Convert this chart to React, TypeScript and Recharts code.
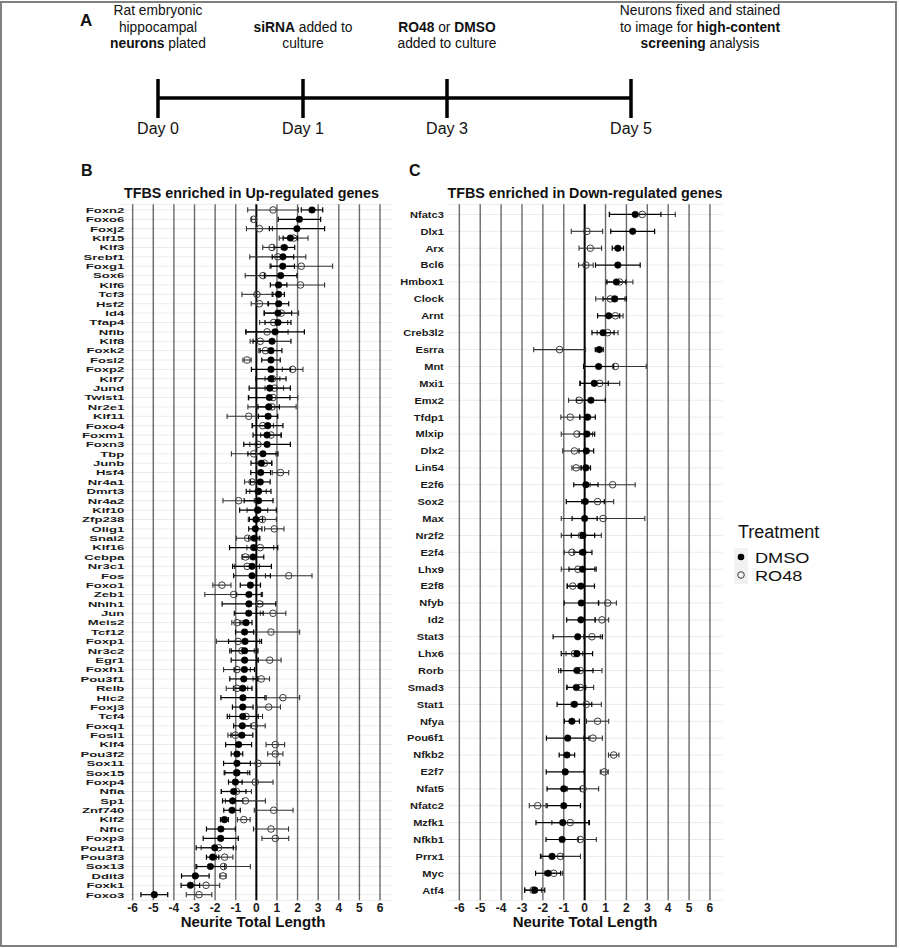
import React from 'react';
import { ScatterChart, Scatter, XAxis, YAxis, ErrorBar, ReferenceLine, CartesianGrid } from 'recharts';

const FONT = '"Liberation Sans", Arial, Helvetica, sans-serif';

// ---------- Panel B: TFBS enriched in up-regulated genes ----------
const upGenes = [
  'Foxn2', 'Foxo6', 'Foxj2', 'Klf15', 'Klf3', 'Srebf1', 'Foxg1', 'Sox6', 'Klf6', 'Tcf3',
  'Hsf2', 'Id4', 'Tfap4', 'Nfib', 'Klf8', 'Foxk2', 'Fosl2', 'Foxp2', 'Klf7', 'Jund',
  'Twist1', 'Nr2e1', 'Klf11', 'Foxo4', 'Foxm1', 'Foxn3', 'Tbp', 'Junb', 'Hsf4', 'Nr4a1',
  'Dmrt3', 'Nr4a2', 'Klf10', 'Zfp238', 'Olig1', 'Snai2', 'Klf16', 'Cebpa', 'Nr3c1', 'Fos',
  'Foxo1', 'Zeb1', 'Nhlh1', 'Jun', 'Meis2', 'Tcf12', 'Foxp1', 'Nr3c2', 'Egr1', 'Foxh1',
  'Pou3f1', 'Relb', 'Hic2', 'Foxj3', 'Tcf4', 'Foxq1', 'Fosl1', 'Klf4', 'Pou3f2', 'Sox11',
  'Sox15', 'Foxp4', 'Nfia', 'Sp1', 'Znf740', 'Klf2', 'Nfic', 'Foxp3', 'Pou2f1', 'Pou3f3',
  'Sox13', 'Ddit3', 'Foxk1', 'Foxo3',
];
const upDmso = [
  2.70, 2.09, 1.97, 1.65, 1.36, 1.29, 1.28, 1.18, 1.08, 1.08,
  1.08, 1.05, 1.05, 0.91, 0.76, 0.71, 0.71, 0.71, 0.71, 0.65,
  0.63, 0.60, 0.57, 0.55, 0.52, 0.52, 0.32, 0.24, 0.21, 0.19,
  0.11, 0.11, 0.08, -0.02, -0.05, -0.10, -0.13, -0.16, -0.21, -0.21,
  -0.29, -0.36, -0.36, -0.37, -0.50, -0.57, -0.55, -0.57, -0.57, -0.58,
  -0.61, -0.66, -0.65, -0.66, -0.66, -0.68, -0.70, -0.86, -0.94, -0.94,
  -0.94, -1.02, -1.10, -1.15, -1.18, -1.55, -1.72, -1.73, -2.02, -2.12,
  -2.23, -2.96, -3.20, -4.95,
];
const upDmsoSe = [
  0.52, 1.03, 1.34, 0.35, 0.50, 0.52, 0.57, 0.79, 0.40, 0.28,
  0.49, 0.66, 0.63, 1.42, 0.92, 0.53, 0.45, 0.95, 0.73, 1.00,
  1.00, 0.52, 0.47, 0.74, 0.68, 1.13, 0.73, 0.50, 0.48, 0.48,
  0.60, 0.70, 0.89, 0.32, 0.32, 0.27, 1.17, 0.52, 0.94, 0.89,
  0.49, 0.60, 1.30, 0.70, 0.29, 0.44, 0.80, 0.65, 0.65, 0.49,
  0.68, 0.45, 1.07, 0.50, 0.75, 0.42, 0.53, 0.63, 0.28, 0.65,
  0.62, 0.33, 0.60, 0.49, 0.40, 0.19, 0.70, 0.85, 0.90, 0.30,
  0.70, 0.67, 0.45, 0.65,
];
const upRo48 = [
  0.81, -0.13, 0.15, 1.81, 0.76, 1.04, 2.18, 0.32, 2.14, 0.03,
  0.15, 1.21, 0.84, 0.52, 0.19, 0.44, -0.45, 1.76, 0.78, 0.87,
  0.81, 0.76, -0.37, 0.31, 0.71, 0.08, -0.13, 0.39, 1.17, -0.21,
  0.08, -0.86, 0.05, 0.29, 0.87, -0.42, 0.19, -0.53, -0.45, 1.57,
  -1.67, -1.10, 0.16, 0.81, -0.94, 0.71, -0.89, -0.70, 0.65, -0.94,
  0.24, -0.94, 1.29, 0.60, -0.50, -0.10, -1.02, 0.92, 0.92, 0.08,
  -0.97, -0.05, -0.97, -0.53, 0.84, -0.61, 0.71, 0.92, -1.83, -1.54,
  -1.59, -1.62, -2.44, -2.78,
];
const upRo48Se = [
  1.23, 0.10, 0.63, 0.70, 0.45, 1.36, 1.52, 0.86, 1.17, 0.73,
  0.40, 0.84, 0.68, 1.02, 0.49, 0.32, 0.20, 0.50, 0.36, 0.45,
  1.20, 1.17, 1.05, 0.52, 0.50, 0.40, 1.08, 0.37, 0.40, 0.36,
  0.40, 0.76, 0.50, 0.68, 0.47, 0.55, 0.65, 0.16, 0.60, 1.13,
  0.44, 1.40, 0.15, 0.62, 0.25, 1.39, 1.05, 0.60, 0.55, 0.65,
  0.40, 0.52, 0.81, 0.57, 0.80, 0.53, 0.36, 0.45, 0.37, 1.05,
  0.55, 0.86, 0.73, 0.97, 0.94, 0.31, 0.85, 0.65, 0.85, 0.40,
  1.30, 0.15, 0.66, 0.62,
];

// ---------- Panel C: TFBS enriched in down-regulated genes ----------
const downGenes = [
  'Nfatc3', 'Dlx1', 'Arx', 'Bcl6', 'Hmbox1', 'Clock', 'Arnt', 'Creb3l2', 'Esrra', 'Mnt',
  'Mxi1', 'Emx2', 'Tfdp1', 'Mlxip', 'Dlx2', 'Lin54', 'E2f6', 'Sox2', 'Max', 'Nr2f2',
  'E2f4', 'Lhx9', 'E2f8', 'Nfyb', 'Id2', 'Stat3', 'Lhx6', 'Rorb', 'Smad3', 'Stat1',
  'Nfya', 'Pou6f1', 'Nfkb2', 'E2f7', 'Nfat5', 'Nfatc2', 'Mzfk1', 'Nfkb1', 'Prrx1', 'Myc',
  'Atf4',
];
const downDmso = [
  2.42, 2.30, 1.59, 1.59, 1.52, 1.44, 1.15, 0.88, 0.70, 0.67,
  0.46, 0.30, 0.14, 0.11, 0.08, 0.06, 0.06, 0.03, 0.00, -0.08,
  -0.08, -0.10, -0.18, -0.16, -0.18, -0.33, -0.37, -0.37, -0.40, -0.49,
  -0.61, -0.81, -0.85, -0.93, -1.00, -1.00, -1.05, -1.08, -1.56, -1.75,
  -2.39,
];
const downDmsoSe = [
  1.23, 1.05, 0.27, 1.07, 0.45, 0.56, 0.53, 0.53, 0.19, 0.72,
  0.67, 0.69, 0.37, 0.37, 0.35, 0.22, 0.58, 0.91, 0.60, 0.56,
  0.43, 0.65, 0.65, 0.82, 0.68, 1.18, 0.75, 0.77, 0.45, 0.83,
  0.36, 1.02, 0.37, 0.91, 0.80, 0.80, 1.28, 0.77, 0.53, 0.60,
  0.48,
];
const downRo48 = [
  2.76, 0.11, 0.27, 0.06, 1.67, 1.23, 1.47, 1.10, -1.20, 1.47,
  0.72, -0.26, -0.69, -0.37, -0.49, -0.41, 1.34, 0.62, 0.88, -0.16,
  -0.61, -0.32, -0.57, 1.10, 0.83, 0.35, -0.49, -0.21, -0.21, 0.08,
  0.62, 0.40, 1.39, 0.94, -0.08, -2.25, -0.69, -0.21, -1.16, -1.48,
  -2.47,
];
const downRo48Se = [
  1.58, 0.75, 0.54, 0.35, 0.64, 0.70, 0.37, 0.50, 1.24, 1.48,
  0.96, 0.51, 0.45, 0.75, 0.56, 0.20, 1.08, 0.77, 2.00, 0.96,
  0.37, 0.80, 0.27, 0.42, 0.32, 0.40, 0.40, 1.04, 0.64, 0.72,
  0.53, 0.45, 0.25, 0.19, 0.75, 0.40, 0.88, 0.77, 0.96, 0.43,
  0.40,
];

const xTicks = [-6, -5, -4, -3, -2, -1, 0, 1, 2, 3, 4, 5, 6];

// ---------- Panel A timeline ----------
const dayLabels = ['Day 0', 'Day 1', 'Day 3', 'Day 5'];

const PLOT_TOP = 204.3;
const PLOT_BOTTOM = 900.3;
const PAGE_H = 948;

function buildSeries(vals: number[], errs: number[]) {
  return vals.map((v, i) => ({ x: v, y: i + 1, err: errs[i] }));
}

const filledShape = (p: any) => <circle cx={p.cx} cy={p.cy} r={3.3} fill="#000" stroke="#000" strokeWidth={0.5} />;
const openShape = (p: any) => <circle cx={p.cx} cy={p.cy} r={3.3} fill="none" stroke="#3a3a3a" strokeWidth={1} />;

function XTick(props: any) {
  const { x, y, payload } = props;
  return (
    <text x={x} y={y} dy={9.5} textAnchor="middle" fontSize={12} fontWeight="bold" fill="#1a1a1a" fontFamily={FONT}>
      {payload.value}
    </text>
  );
}

function makeYTick(names: string[], sx: number, fs: number) {
  return (props: any) => {
    const { x, y, payload } = props;
    const name = names[Math.round(payload.value) - 1];
    return (
      <text transform={`translate(${x},${y}) scale(${sx},1)`} x={0} y={0} dy="0.35em" textAnchor="end"
        fontSize={fs} fontWeight="bold" fill="#1a1a1a" fontFamily={FONT}>
        {name}
      </text>
    );
  };
}

type PanelProps = {
  genes: string[]; dmso: number[]; dmsoSe: number[]; ro48: number[]; ro48Se: number[];
  left: number; width: number; plotLeft: number; plotRight: number; sx: number; fs: number; gap: number;
};

function Panel({ genes, dmso, dmsoSe, ro48, ro48Se, left, width, plotLeft, plotRight, sx, fs, gap }: PanelProps) {
  const n = genes.length;
  const yTicks = genes.map((_, i) => i + 1);
  const dData = buildSeries(dmso, dmsoSe);
  const rData = buildSeries(ro48, ro48Se);
  const xAxisH = 30;
  return (
    <div style={{ position: 'absolute', left, top: 0 }}>
      <ScatterChart width={width} height={PAGE_H}
        margin={{ top: PLOT_TOP, right: left + width - plotRight, bottom: PAGE_H - PLOT_BOTTOM - xAxisH, left: 0 }}>
        <CartesianGrid horizontal vertical={false} stroke="#ebebeb" strokeWidth={1} />
        {xTicks.map((t) => (
          <ReferenceLine key={t} x={t} stroke={t === 0 ? '#000' : '#6a6a6a'} strokeWidth={t === 0 ? 2 : 1.4} />
        ))}
        <XAxis type="number" dataKey="x" domain={[-6.6, 6.6]} ticks={xTicks} interval={0} allowDataOverflow
          tickLine={false} axisLine={false} height={xAxisH} tickSize={0} tickMargin={2} tick={<XTick />} />
        <YAxis type="number" dataKey="y" domain={[0.4, n + 0.6]} reversed ticks={yTicks} interval={0} allowDataOverflow
          width={plotLeft - left} tickLine={false} axisLine={false} tickSize={0} tickMargin={gap}
          tick={makeYTick(genes, sx, fs)} />
        <Scatter data={rData} shape={openShape} isAnimationActive={false}>
          <ErrorBar dataKey="err" direction="x" width={2.6} stroke="#333" strokeWidth={1.1} />
        </Scatter>
        <Scatter data={dData} shape={filledShape} isAnimationActive={false}>
          <ErrorBar dataKey="err" direction="x" width={2.6} stroke="#000" strokeWidth={1.2} />
        </Scatter>
      </ScatterChart>
    </div>
  );
}

export default function App() {
  const tickX = [158, 303, 447, 631];
  const lineY = 98;
  return (
    <div style={{ position: 'absolute', left: 0, top: 0, width: 900, height: 948, background: '#fff', fontFamily: FONT }}>
      <Panel genes={upGenes} dmso={upDmso} dmsoSe={upDmsoSe} ro48={upRo48} ro48Se={upRo48Se}
        left={0} width={400} plotLeft={120.3} plotRight={392.4} sx={1.62} fs={8.1} gap={-4} />
      <Panel genes={downGenes} dmso={downDmso} dmsoSe={downDmsoSe} ro48={downRo48} ro48Se={downRo48Se}
        left={330} width={400} plotLeft={446.8} plotRight={722.5} sx={1.15} fs={9.6} gap={3} />
      <svg width={900} height={948} style={{ position: 'absolute', left: 0, top: 0, pointerEvents: 'none' }} fontFamily={FONT}>
        <rect x={1} y={2} width={895} height={944} fill="none" stroke="#808080" strokeWidth={2} />
        {/* Panel A */}
        <text x={80} y={26} fontSize={17} fontWeight="bold" fill="#111">A</text>
        <g fontSize={13.8} fill="#111" textAnchor="middle">
          <text x={158} y={15}>Rat embryonic</text>
          <text x={158} y={31.5}>hippocampal</text>
          <text x={158} y={48}><tspan fontWeight="bold">neurons</tspan> plated</text>
          <text x={303} y={31.5}><tspan fontWeight="bold">siRNA</tspan> added to</text>
          <text x={303} y={48}>culture</text>
          <text x={447} y={31.5}><tspan fontWeight="bold">RO48</tspan> or <tspan fontWeight="bold">DMSO</tspan></text>
          <text x={447} y={48}>added to culture</text>
          <text x={700} y={15}>Neurons fixed and stained</text>
          <text x={700} y={31.5}>to image for <tspan fontWeight="bold">high-content</tspan></text>
          <text x={700} y={48}><tspan fontWeight="bold">screening</tspan> analysis</text>
        </g>
        <line x1={tickX[0]} x2={tickX[3]} y1={lineY} y2={lineY} stroke="#000" strokeWidth={3.5} />
        {tickX.map((x, i) => (
          <g key={i}>
            <line x1={x} x2={x} y1={lineY - 19} y2={lineY + 20} stroke="#000" strokeWidth={3.5} />
            <text x={x} y={134} fontSize={16} textAnchor="middle" fill="#111">{dayLabels[i]}</text>
          </g>
        ))}
        {/* Panel labels and titles */}
        <text x={81} y={176} fontSize={16} fontWeight="bold" fill="#111">B</text>
        <text x={409} y={176} fontSize={16} fontWeight="bold" fill="#111">C</text>
        <text x={251.5} y={198} fontSize={14.3} fontWeight="bold" textAnchor="middle" fill="#111">TFBS enriched in Up-regulated genes</text>
        <text x={585} y={198} fontSize={14.3} fontWeight="bold" textAnchor="middle" fill="#111">TFBS enriched in Down-regulated genes</text>
        <text x={253} y={927} fontSize={15} fontWeight="bold" textAnchor="middle" fill="#111">Neurite Total Length</text>
        <text x={585} y={927} fontSize={15} fontWeight="bold" textAnchor="middle" fill="#111">Neurite Total Length</text>
        {/* Legend */}
        <text x={738} y={538} fontSize={18} fill="#111">Treatment</text>
        <rect x={734} y={548} width={14} height={18} fill="#f2f2f2" />
        <rect x={734} y={566} width={14} height={18} fill="#f2f2f2" />
        <circle cx={741} cy={557} r={3.3} fill="#000" />
        <circle cx={741} cy={575} r={3.3} fill="none" stroke="#3a3a3a" strokeWidth={1} />
        <text transform="translate(755,562.5) scale(1.18,1)" x={0} y={0} fontSize={15.4} fill="#111">DMSO</text>
        <text transform="translate(755,580.5) scale(1.18,1)" x={0} y={0} fontSize={15.4} fill="#111">RO48</text>
      </svg>
    </div>
  );
}
